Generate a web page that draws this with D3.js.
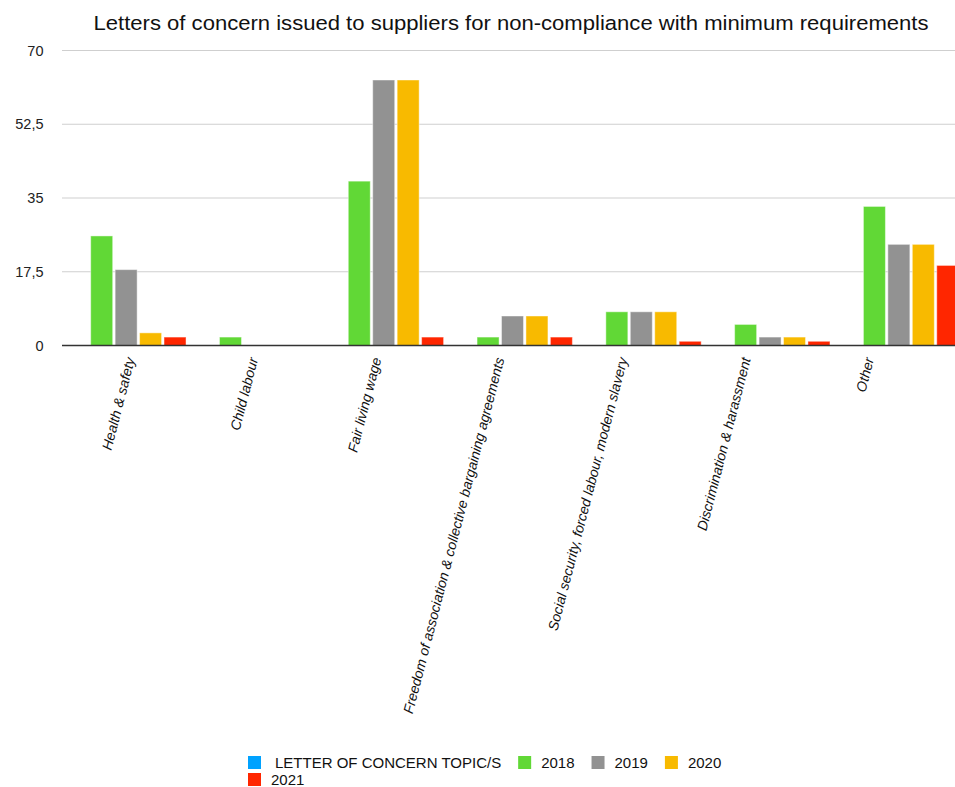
<!DOCTYPE html>
<html>
<head>
<meta charset="utf-8">
<script src="https://cdn.jsdelivr.net/npm/d3@7"></script>
<style>
  body { margin: 0; background: #fff; }
  svg { display: block; font-family: "Liberation Sans", Arial, Helvetica, sans-serif; }
</style>
</head>
<body>
<svg class="chart"></svg>
<script>
// chart data
let categories = [
  "Health & safety",
  "Child labour",
  "Fair living wage",
  "Freedom of association & collective bargaining agreements",
  "Social security, forced labour, modern slavery",
  "Discrimination & harassment",
  "Other",
];
let seriesNames = ["LETTER OF CONCERN TOPIC/S", "2018", "2019", "2020", "2021"];
let topicValues = [0, 0, 0, 0, 0, 0, 0]; // empty series, only shows in the legend
let values2018 = [26, 2, 39, 2, 8, 5, 33];
let values2019 = [18, 0, 63, 7, 8, 2, 24];
let values2020 = [3, 0, 63, 7, 8, 2, 24];
let values2021 = [2, 0, 2, 2, 1, 1, 19];
let yTicks = [0, 17.5, 35, 52.5, 70];
let colors = ["#00a2ff", "#61d836", "#929292", "#f8ba00", "#ff2600"];

let width = 955,
  height = 787;

let svg = d3.select(".chart").attr("width", width).attr("height", height);

let allSeries = [topicValues, values2018, values2019, values2020, values2021];
let rows = categories.map((c, i) => ({
  cat: c,
  vals: seriesNames.map((s, j) => ({ key: s, idx: j, v: allSeries[j][i] })),
}));

// scales
let x0 = d3
  .scaleBand()
  .domain(categories)
  .range([62, 963])
  .paddingInner(0.07)
  .paddingOuter(0.033);
let x1 = d3
  .scaleBand()
  .domain(seriesNames)
  .range([0, x0.bandwidth()])
  .paddingInner(0.1);
let y = d3.scaleLinear().domain([0, 70]).range([345.5, 50.5]);
// label positions (the labels in the source sit slightly off the groups)
let xLabel = d3.scalePoint().domain(categories).range([135, 874]);

// title
svg
  .append("text")
  .attr("x", 511)
  .attr("y", 30)
  .attr("text-anchor", "middle")
  .attr("font-size", 20.5)
  .attr("textLength", 835)
  .attr("lengthAdjust", "spacingAndGlyphs")
  .attr("fill", "#111")
  .text("Letters of concern issued to suppliers for non-compliance with minimum requirements");

// grid + y labels
let yAxis = svg.append("g").attr("id", "y-axis");
yAxis
  .selectAll("line")
  .data(yTicks.filter((t) => t > 0))
  .enter()
  .append("line")
  .attr("x1", 62)
  .attr("x2", width)
  .attr("y1", (d) => y(d))
  .attr("y2", (d) => y(d))
  .attr("stroke", "#cfcfcf")
  .attr("stroke-width", 1);
yAxis
  .selectAll("text")
  .data(yTicks)
  .enter()
  .append("text")
  .attr("x", 43.5)
  .attr("y", (d) => y(d))
  .attr("dy", "0.36em")
  .attr("text-anchor", "end")
  .attr("font-size", 14.5)
  .attr("fill", "#222")
  .text((d) => String(d).replace(".", ","));

// bars
svg
  .append("g")
  .attr("id", "bars")
  .selectAll("g")
  .data(rows)
  .enter()
  .append("g")
  .attr("transform", (d) => "translate(" + x0(d.cat) + ",0)")
  .selectAll("rect")
  .data((d) => d.vals.filter((e) => e.v > 0))
  .enter()
  .append("rect")
  .attr("x", (d) => x1(d.key))
  .attr("width", x1.bandwidth())
  .attr("y", (d) => y(d.v))
  .attr("height", (d) => y(0) - y(d.v))
  .attr("fill", (d) => colors[d.idx])
  .attr("stroke", "#fff")
  .attr("stroke-opacity", 0.45)
  .attr("stroke-width", 1);

// baseline
svg
  .append("line")
  .attr("x1", 62)
  .attr("x2", width)
  .attr("y1", y(0))
  .attr("y2", y(0))
  .attr("stroke", "#333")
  .attr("stroke-width", 1.5);

// category labels
svg
  .append("g")
  .attr("id", "x-labels")
  .selectAll("text")
  .data(categories)
  .enter()
  .append("text")
  .attr("transform", (d) => "translate(" + xLabel(d) + ",359) rotate(-75.5)")
  .attr("text-anchor", "end")
  .attr("font-size", 14)
  .attr("font-style", "italic")
  .attr("fill", "#111")
  .text((d) => d);

// legend, laid out as a wrapping row
let legend = svg.append("g").attr("id", "legend");
let lx = 248,
  ly = 756,
  maxX = 740;
seriesNames.forEach((s, i) => {
  let item = legend.append("g");
  let off = i == 0 ? 27 : 23;
  let t = item
    .append("text")
    .attr("font-size", 15)
    .attr("fill", "#111")
    .attr("y", 11.5)
    .attr("x", off)
    .text(s);
  let w = off + t.node().getComputedTextLength();
  if (lx + w > maxX) {
    lx = 248;
    ly += 17;
  }
  item.attr("transform", "translate(" + lx + "," + ly + ")");
  item
    .append("rect")
    .attr("width", 13)
    .attr("height", 13)
    .attr("fill", colors[i]);
  lx += w + 17;
});
</script>
</body>
</html>
